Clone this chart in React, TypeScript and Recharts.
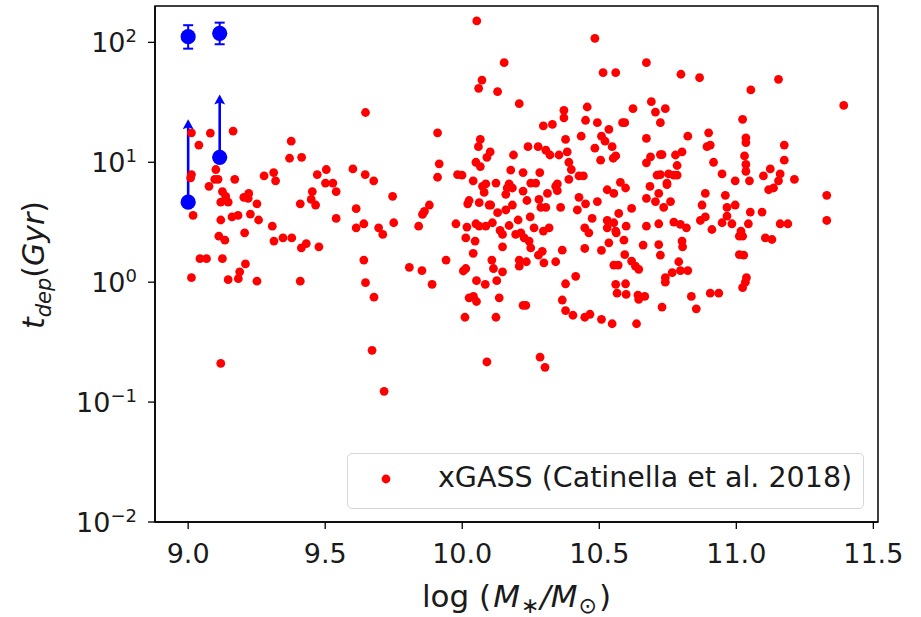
import React from "react";
import {
  ScatterChart,
  Scatter,
  XAxis,
  YAxis,
  ErrorBar,
  ReferenceLine,
  ReferenceArea,
  Legend,
  Label,
} from "recharts";

const X_DOMAIN: [number, number] = [8.879, 11.517];
const Y_DOMAIN: [number, number] = [0.01, 201];
const xTicks = [9.0, 9.5, 10.0, 10.5, 11.0, 11.5];
const xTickLabels = ["9.0", "9.5", "10.0", "10.5", "11.0", "11.5"];
const yTicks = [0.01, 0.1, 1, 10, 100];
const yTickExponents = ["−2", "−1", "0", "1", "2"];

// xGASS sample: [log M*, t_dep (Gyr)]
const xgass: [number, number][] = [
  [9.012, 17.6], [9.039, 13.9], [9.081, 17.5], [9.164, 18.2], [9.012, 7.9], [9.009, 7.4],
  [9.018, 3.6], [9.012, 1.09], [9.043, 1.57], [9.067, 1.57], [9.076, 6.3], [9.101, 8.7],
  [9.097, 7.2], [9.109, 7.2], [9.125, 5.7], [9.137, 5.2], [9.119, 4.65], [9.146, 4.65],
  [9.119, 3.3], [9.112, 2.42], [9.134, 2.24], [9.125, 1.57], [9.146, 1.05], [9.17, 7.2],
  [9.16, 3.5], [9.182, 3.6], [9.206, 2.58], [9.209, 1.42], [9.188, 1.22], [9.183, 1.07],
  [9.203, 5.1], [9.221, 5.5], [9.219, 5.0], [9.227, 3.7], [9.251, 4.5], [9.257, 3.3],
  [9.251, 1.02], [9.277, 7.7], [9.312, 8.2], [9.319, 7.0], [9.307, 2.93], [9.313, 2.2],
  [9.346, 2.34], [9.378, 2.34], [9.376, 15], [9.37, 10.8], [9.414, 11.0], [9.409, 4.5],
  [9.409, 1.02], [9.413, 1.93], [9.431, 2.1], [9.453, 5.7], [9.449, 4.9], [9.465, 4.4],
  [9.471, 7.9], [9.504, 8.7], [9.501, 6.7], [9.528, 6.7], [9.54, 5.7], [9.477, 1.97],
  [9.54, 3.4], [9.601, 8.8], [9.647, 26], [9.646, 7.9], [9.677, 7.0], [9.613, 4.1],
  [9.613, 2.84], [9.641, 3.07], [9.641, 1.53], [9.647, 0.99], [9.678, 0.75], [9.695, 2.84],
  [9.71, 2.5], [9.746, 5.2], [9.75, 3.13], [9.807, 1.33], [9.841, 2.93], [9.853, 1.25],
  [9.855, 3.67], [9.862, 3.9], [9.88, 4.4], [9.89, 0.96], [9.91, 17.6], [9.916, 9.7],
  [9.91, 7.5], [9.941, 1.53], [9.977, 3.07], [9.983, 7.9],
  [9.119, 0.21], [9.671, 0.27], [9.715, 0.123],
  [10.01, 0.51], [10.025, 0.74], [10.041, 0.76], [10.052, 0.69], [10.09, 0.216], [10.123, 0.51],
  [10.135, 0.74], [10.222, 0.64], [10.232, 0.64], [10.284, 0.237], [10.302, 0.195], [10.365, 0.71],
  [10.377, 0.58], [10.404, 0.53], [10.377, 0.97], [10.447, 0.51], [10.466, 0.54], [10.508, 0.49],
  [10.547, 0.45], [10.56, 0.96], [10.596, 0.97], [10.565, 0.81], [10.598, 0.79], [10.641, 0.78],
  [10.644, 0.72], [10.666, 0.76], [10.636, 0.45], [10.729, 0.62], [10.741, 1.0], [10.836, 0.76],
  [10.854, 0.6], [10.905, 0.81], [10.936, 0.81], [11.023, 0.9], [11.033, 1.0],
  [10.052, 1.03], [10.084, 0.96], [10.126, 1.03],
  [10.053, 151], [10.153, 67.7], [10.072, 48.5], [10.06, 41.4], [10.129, 38.8], [10.208, 30.8],
  [10.484, 108], [10.514, 55.9], [10.56, 55.9], [10.672, 67.7], [10.798, 54.2], [10.866, 50.7],
  [11.154, 49.2], [11.053, 40.1], [11.392, 29.8], [11.023, 22.8],
  [10.371, 27.1], [10.371, 23.5], [10.456, 28.9], [10.45, 22.4], [10.296, 20.1], [10.329, 20.7],
  [10.377, 15.5], [10.434, 16.5], [10.066, 15.5], [10.059, 13.5], [10.102, 12.2], [10.09, 11.0],
  [10.187, 11.5], [10.24, 13.5], [10.277, 13.5], [10.305, 12.6], [10.32, 11.5], [10.353, 11.5],
  [10.383, 12.2], [10.389, 10.0], [10.398, 8.7], [10.05, 10.0], [10.066, 9.2], [9.999, 7.8],
  [10.04, 7.0], [10.086, 6.6], [10.123, 6.7], [10.177, 8.6], [10.222, 8.2], [10.283, 8.2],
  [10.426, 7.7], [10.442, 7.7], [10.389, 7.2], [10.347, 6.6], [10.25, 6.7], [10.268, 6.7],
  [10.171, 6.6],
  [10.074, 6.3], [10.08, 5.6], [10.164, 6.1], [10.183, 6.1], [10.159, 5.4], [10.222, 5.75],
  [10.311, 5.5], [10.341, 6.3], [10.347, 5.8], [10.236, 4.8], [10.025, 4.8], [10.02, 4.5],
  [10.062, 4.6], [10.098, 4.4], [10.104, 4.4], [10.129, 3.8], [10.159, 4.0], [10.183, 4.4],
  [10.28, 4.9], [10.287, 4.2], [10.305, 4.2], [10.359, 4.2], [10.426, 5.1], [10.42, 4.0],
  [10.45, 4.5], [10.017, 2.88], [10.05, 3.07], [10.062, 2.93], [10.086, 2.93], [10.11, 3.13],
  [10.138, 2.7], [10.147, 2.5], [10.171, 2.97], [10.204, 3.3], [10.195, 2.5], [10.214, 2.58],
  [10.226, 2.34], [10.244, 2.2], [10.25, 1.93], [10.248, 3.5], [10.262, 2.84], [10.296, 2.67],
  [10.317, 2.84], [10.013, 2.34], [10.047, 2.2], [10.147, 1.97], [10.04, 1.74], [10.004, 1.24],
  [10.013, 1.3], [10.108, 1.53], [10.114, 1.3], [10.147, 1.22], [10.208, 1.53], [10.208, 1.36],
  [10.234, 1.48], [10.278, 1.68], [10.292, 1.81], [10.298, 1.45], [10.341, 1.48], [10.365, 1.85],
  [10.447, 1.91], [10.414, 1.12],
  [10.623, 28.0], [10.69, 32.0], [10.705, 26.2], [10.741, 28.0], [10.723, 21.4], [10.493, 21.4],
  [10.585, 21.4], [10.593, 21.4], [10.535, 18.8], [10.508, 16.5], [10.521, 15.0], [10.547, 13.5],
  [10.484, 13.1], [10.505, 10.4], [10.551, 10.8], [10.56, 11.3], [10.672, 15.8], [10.672, 9.9],
  [10.687, 11.1], [10.723, 11.6], [10.729, 11.6], [10.778, 11.5], [10.802, 12.2], [10.784, 9.4],
  [10.823, 16.5], [10.899, 17.6], [10.893, 13.5], [10.905, 13.9], [10.917, 10.0], [10.948, 8.0],
  [10.996, 7.0], [10.711, 7.8], [10.723, 7.9], [10.753, 8.0], [10.772, 7.8], [10.784, 7.8],
  [10.747, 6.7], [10.577, 6.8],
  [10.529, 5.9], [10.553, 5.5], [10.596, 6.1], [10.685, 6.3], [10.747, 6.5], [10.493, 4.7],
  [10.672, 5.0], [10.717, 5.5], [10.705, 4.7], [10.76, 4.7], [10.735, 4.2], [10.887, 5.5],
  [10.96, 5.3], [10.875, 4.4], [10.966, 4.2], [10.996, 4.4], [10.474, 3.4], [10.462, 2.58],
  [10.529, 3.27], [10.553, 3.13], [10.529, 2.84], [10.571, 3.74], [10.618, 4.12], [10.598, 2.93],
  [10.562, 2.58], [10.672, 2.93], [10.717, 3.07], [10.772, 3.17], [10.796, 3.03], [10.818, 2.84],
  [10.869, 3.27], [10.887, 3.5], [10.911, 2.75], [10.948, 3.13], [10.966, 3.56], [10.984, 3.07],
  [10.535, 2.13], [10.508, 1.84], [10.59, 2.24], [10.66, 2.04], [10.717, 2.06], [10.723, 1.68],
  [10.802, 2.2], [10.804, 1.97], [10.593, 1.7], [10.553, 1.39], [10.569, 1.39], [10.618, 1.5],
  [10.632, 1.36], [10.644, 1.28], [10.79, 1.48], [10.741, 1.09], [10.766, 1.2], [10.796, 1.25],
  [10.823, 1.25], [10.447, 2.84], [10.56, 2.67],
  [11.035, 16.0], [11.035, 14.6], [11.175, 13.9], [11.03, 11.3], [11.035, 9.6], [11.035, 8.4],
  [11.175, 10.4], [11.124, 8.8], [11.099, 7.7], [11.16, 8.0], [11.154, 7.0], [11.212, 7.2],
  [11.048, 7.0],
  [11.118, 5.9], [11.136, 6.1], [11.33, 5.3], [11.051, 3.84], [11.094, 3.84], [11.044, 3.07],
  [11.017, 2.67], [11.011, 2.42], [11.023, 2.42], [11.16, 3.07], [11.188, 3.07], [11.33, 3.27],
  [11.106, 2.34], [11.13, 2.27], [11.011, 1.7], [11.027, 1.68], [11.037, 1.09],
];

// our detections with asymmetric errors
const detMass = [9.0, 9.115];
const detTdep = [111.6, 119];
const detErrLow = [23.0, 22.6];
const detErrHigh = [27.4, 27.0];

// lower limits (arrow from value up to tip)
const limMass = [9.0, 9.115];
const limTdep = [4.65, 11.0];
const limArrowTip = [20.6, 33.0];

const xgassData = xgass.map(([x, y]) => ({ x, y }));
const detData = detMass.map((x, i) => ({ x, y: detTdep[i], err: [detErrLow[i], detErrHigh[i]] }));
const limData = limMass.map((x, i) => ({ x, y: limTdep[i] }));
const tipData = limMass.map((x, i) => ({ x, y: limArrowTip[i] }));

const FONT = "DejaVu Sans";
const TXT = "#1a1a1a";

const RedDot = (p: any) => <circle cx={p.cx} cy={p.cy} r={4.4} fill="#ff0000" />;
const BlueDot = (p: any) => <circle cx={p.cx} cy={p.cy} r={7.6} fill="#0000ff" />;
const Caret = (p: any) => (
  <path
    d={`M${p.cx - 5.5},${p.cy + 4.5} L${p.cx},${p.cy - 5.5} L${p.cx + 5.5},${p.cy + 4.5} L${p.cx},${p.cy + 2.5} Z`}
    fill="#0000ff"
  />
);

const XTick = (p: any) => {
  const i = xTicks.findIndex((t) => Math.abs(t - p.payload.value) < 1e-6);
  return (
    <text x={p.x} y={p.y + 34} textAnchor="middle" fontSize={27} fontFamily={FONT} fill={TXT}>
      {xTickLabels[i]}
    </text>
  );
};

const YTick = (p: any) => {
  const i = yTicks.findIndex((t) => Math.abs(t - p.payload.value) / t < 1e-6);
  return (
    <text x={p.x - 11} y={p.y + 10} textAnchor="end" fontSize={27} fontFamily={FONT} fill={TXT}>
      10
      <tspan dy={-10} fontSize={18}>
        {yTickExponents[i]}
      </tspan>
    </text>
  );
};

const XLabel = (props: any) => {
  const vb = props.viewBox;
  return (
    <text x={vb.x + vb.width / 2} y={vb.y + 85} textAnchor="middle" fontSize={31} fontFamily={FONT} fill={TXT}>
      log (
      <tspan dx={2} fontStyle="italic">M</tspan>
      <tspan dx={1} dy={6} fontSize={22}>∗</tspan>
      <tspan dx={1} dy={-6} fontStyle="italic">/M</tspan>
      <tspan dx={1} dy={6} fontSize={22}>⊙</tspan>
      <tspan dx={2} dy={-6}>)</tspan>
    </text>
  );
};

const YLabel = (props: any) => {
  const vb = props.viewBox;
  const cx = vb.x + 43.5;
  const cy = vb.y + vb.height / 2 + 1;
  return (
    <text
      x={cx}
      y={cy}
      transform={`rotate(-90, ${cx}, ${cy})`}
      textAnchor="middle"
      fontSize={30}
      fontFamily={FONT}
      fill={TXT}
    >
      <tspan fontStyle="italic">t</tspan>
      <tspan dy={7} fontSize={21} fontStyle="italic">dep</tspan>
      <tspan dy={-7}>(</tspan>
      <tspan fontStyle="italic">Gyr</tspan>
      <tspan>)</tspan>
    </text>
  );
};

const LegendBox = (props: any) => {
  const entry = (props.payload || []).find((e: any) => e.value) || { value: "" };
  return (
    <div
      style={{
        position: "relative",
        width: 517,
        height: 56,
        boxSizing: "border-box",
        border: "1.5px solid #d6d6d6",
        borderRadius: 5,
        background: "rgba(255,255,255,0.8)",
        fontFamily: FONT,
        fontSize: 28.5,
        color: TXT,
      }}
    >
      <svg width={20} height={20} style={{ position: "absolute", left: 28, top: 15 }}>
        <circle cx={10} cy={10} r={4.4} fill="#ff0000" />
      </svg>
      <span style={{ position: "absolute", left: 90, top: 10, lineHeight: 1, whiteSpace: "nowrap" }}>
        {entry.value}
      </span>
    </div>
  );
};

export default function App() {
  return (
    <div style={{ position: "absolute", left: 0, top: 0, background: "#fff", fontFamily: FONT }}>
      <ScatterChart width={921} height={617} margin={{ top: 6, right: 43, bottom: 0, left: 0 }}>
        <XAxis
          type="number"
          dataKey="x"
          domain={X_DOMAIN}
          ticks={xTicks}
          allowDataOverflow
          height={95}
          tickSize={7}
          tickMargin={0}
          tick={<XTick />}
          axisLine={{ stroke: "#000", strokeWidth: 1.5 }}
          tickLine={{ stroke: "#000", strokeWidth: 1.3 }}
        >
          <Label content={<XLabel />} />
        </XAxis>
        <YAxis
          type="number"
          dataKey="y"
          scale="log"
          domain={Y_DOMAIN}
          ticks={yTicks}
          allowDataOverflow
          width={155}
          tickSize={7}
          tickMargin={0}
          tick={<YTick />}
          axisLine={{ stroke: "#000", strokeWidth: 1.5 }}
          tickLine={{ stroke: "#000", strokeWidth: 1.3 }}
        >
          <Label content={<YLabel />} />
        </YAxis>
        <ReferenceArea
          x1={X_DOMAIN[0]}
          x2={X_DOMAIN[1]}
          y1={Y_DOMAIN[0]}
          y2={Y_DOMAIN[1]}
          fill="none"
          fillOpacity={0}
          stroke="#000"
          strokeWidth={1.5}
        />
        <Scatter
          name="xGASS (Catinella et al. 2018)"
          data={xgassData}
          fill="#ff0000"
          shape={RedDot}
          isAnimationActive={false}
        />
        {limMass.map((x, i) => (
          <ReferenceLine
            key={i}
            segment={[
              { x, y: limTdep[i] },
              { x, y: limArrowTip[i] },
            ]}
            stroke="#0000ff"
            strokeWidth={2.6}
          />
        ))}
        <Scatter data={tipData} fill="#0000ff" shape={Caret} legendType="none" isAnimationActive={false} />
        <Scatter data={limData} fill="#0000ff" shape={BlueDot} legendType="none" isAnimationActive={false} />
        <Scatter data={detData} fill="#0000ff" shape={BlueDot} legendType="none" isAnimationActive={false}>
          <ErrorBar dataKey="err" direction="y" width={5} stroke="#0000ff" strokeWidth={2} isAnimationActive={false} />
        </Scatter>
        <Legend
          layout="vertical"
          align="center"
          verticalAlign="middle"
          content={<LegendBox />}
          wrapperStyle={{ left: 347, top: 453, width: 517, height: 56 }}
        />
      </ScatterChart>
    </div>
  );
}
